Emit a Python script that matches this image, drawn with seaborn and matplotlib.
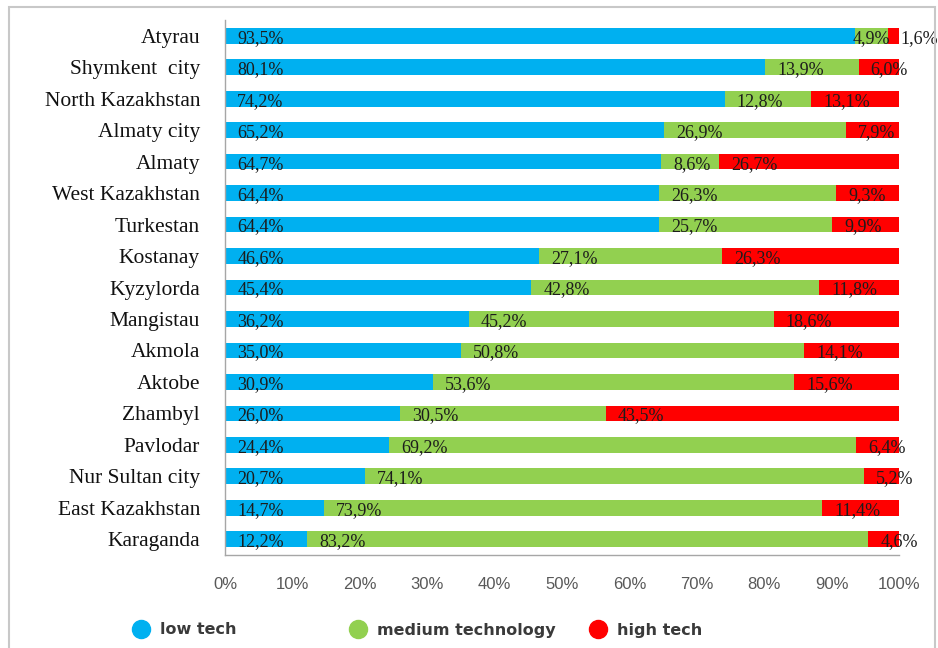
import numpy as np
import pandas as pd
import seaborn as sns
import matplotlib.pyplot as plt
from matplotlib.lines import Line2D
from matplotlib.patches import Rectangle

regions = ["Atyrau", "Shymkent  city", "North Kazakhstan", "Almaty city", "Almaty",
           "West Kazakhstan", "Turkestan", "Kostanay", "Kyzylorda", "Mangistau",
           "Akmola", "Aktobe", "Zhambyl", "Pavlodar", "Nur Sultan city",
           "East Kazakhstan", "Karaganda"]
low_tech = [93.5, 80.1, 74.2, 65.2, 64.7, 64.4, 64.4, 46.6, 45.4, 36.2,
            35.0, 30.9, 26.0, 24.4, 20.7, 14.7, 12.2]
medium_tech = [4.9, 13.9, 12.8, 26.9, 8.6, 26.3, 25.7, 27.1, 42.8, 45.2,
               50.8, 53.6, 30.5, 69.2, 74.1, 73.9, 83.2]
high_tech = [1.6, 6.0, 13.1, 7.9, 26.7, 9.3, 9.9, 26.3, 11.8, 18.6,
             14.1, 15.6, 43.5, 6.4, 5.2, 11.4, 4.6]
series_names = ["low tech", "medium technology", "high tech"]
colors = ["#00B0F0", "#92D050", "#FF0000"]

df = pd.DataFrame({"Region": regions, "low": low_tech, "medium": medium_tech, "high": high_tech})
total = df[["low", "medium", "high"]].sum(axis=1)
# 100% stacked -> normalise each row
for c in ["low", "medium", "high"]:
    df[c + "_n"] = df[c] / total * 100
df["cum_low"] = df["low_n"]
df["cum_med"] = df["low_n"] + df["medium_n"]
df["cum_high"] = df["cum_med"] + df["high_n"]

sns.set_style("white")
fig = plt.figure(figsize=(9.38, 6.48), dpi=100)
ax = fig.add_axes([225 / 938, 1 - 555 / 648, (899 - 225) / 938, (555 - 20) / 648])

# draw cumulative bars from the longest to the shortest
for col, c in zip(["cum_high", "cum_med", "cum_low"], colors[::-1]):
    sns.barplot(data=df, x=col, y="Region", color=c, width=0.5, ax=ax,
                saturation=1, linewidth=0, edgecolor="none")

serif = ["Liberation Serif", "DejaVu Serif"]
starts = [np.zeros(len(df)), df["cum_low"].values, df["cum_med"].values]
widths = [df["low_n"].values, df["medium_n"].values, df["high_n"].values]
vals = [df["low"].values, df["medium"].values, df["high"].values]
for k, (s, w, v) in enumerate(zip(starts, widths, vals)):
    for i in range(len(df)):
        txt = f"{v[i]:.1f}%".replace(".", ",")
        if k < 2 and w[i] < 5:
            # too narrow segment: label centred on it
            ax.text(s[i] + w[i] / 2, i + 0.08, txt, va="center", ha="center",
                    fontsize=13, family=serif, color="#1c1c1c")
        else:
            ax.text(s[i] + 1.8, i + 0.08, txt, va="center", ha="left",
                    fontsize=13, family=serif, color="#1c1c1c")

ax.set_xlim(0, 100)
ax.set_ylim(16.5, -0.5)
ax.set_xticks(np.arange(0, 101, 10))
ax.set_xticklabels([f"{t}%" for t in range(0, 101, 10)], fontsize=12,
                   family=["Liberation Sans"], color="#595959")
ax.set_yticks(range(len(regions)))
ax.set_yticklabels(regions, fontsize=15.5, family=serif, color="#111111")
ax.set_yticks(np.arange(-0.5, len(regions), 1), minor=True)
ax.tick_params(axis="y", which="major", length=0, pad=18)
ax.tick_params(axis="y", which="minor", length=6, color="#A6A6A6", direction="out")
ax.tick_params(axis="x", which="major", length=6, color="#A6A6A6", direction="out", pad=10)
ax.set_xlabel("")
ax.set_ylabel("")
for sp in ["top", "right"]:
    ax.spines[sp].set_visible(False)
for sp in ["left", "bottom"]:
    ax.spines[sp].set_color("#A6A6A6")
    ax.spines[sp].set_linewidth(1)

# legend, one entry per block
leg_x = [141, 358, 598]
fs = 11.5
fs_px = fs * 100 / 72
for name, col, xc in zip(series_names, colors, leg_x):
    h = Line2D([0], [0], marker="o", color="none", markerfacecolor=col, markeredgecolor=col,
               markersize=13)
    fig.legend(handles=[h], labels=[name], loc="center left",
               bbox_to_anchor=((xc - 0.5 * fs_px) / 938, 1 - 630 / 648),
               frameon=False, borderpad=0, borderaxespad=0, handlelength=1.0, handletextpad=0.7,
               prop={"family": "DejaVu Sans", "size": fs, "weight": "bold"}, labelcolor="#3a3a3a")

# outer frame
fig.add_artist(Rectangle((9 / 938, -0.1), (935 - 9) / 938, 1.1 - 7 / 648,
                         transform=fig.transFigure, fill=False, edgecolor="#C8C8C8", lw=1.5))

fig.savefig("out.png", dpi=100)
